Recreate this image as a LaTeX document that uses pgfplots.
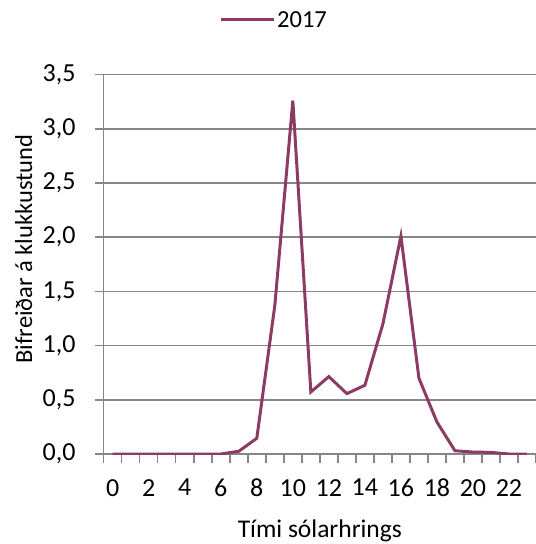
\documentclass[border=0pt]{standalone}
\usepackage{fontspec}
\setmainfont{Carlito}
\usepackage{pgfplots}
\pgfplotsset{compat=1.18}
\definecolor{lineC}{RGB}{140,60,100}
\definecolor{gridC}{RGB}{134,134,134}
\newcommand{\chartfont}{\fontsize{24.5bp}{29bp}\selectfont}
\newcommand{\tickfont}{\fontsize{26bp}{31bp}\selectfont}
\begin{document}
\begin{tikzpicture}
\useasboundingbox (-103.7bp,-90bp) rectangle (432.3bp,454bp);
\begin{axis}[
  scale only axis,
  width=432.3bp, height=379.4bp,
  xmin=-0.5, xmax=23.5, ymin=0, ymax=3.5,
  axis lines=left,
  axis line style={-, draw=gridC, line width=1.5bp},
  /pgf/number format/assume math mode=true,
  tick label style={font=\tickfont},
  label style={font=\chartfont},
  ytick={0,0.5,...,3.5},
  yticklabel style={/pgf/number format/use comma, /pgf/number format/fixed, /pgf/number format/fixed zerofill, /pgf/number format/precision=1, xshift=-16bp},
  ymajorgrids,
  grid style={draw=gridC, line width=1.5bp},
  tick align=outside,
  major tick length=8.7bp,
  minor tick length=8.7bp,
  tick style={draw=gridC, line width=1.5bp},
  xtick={0,2,...,22},
  every major x tick/.append style={draw=none},
  minor xtick={-0.5,0.5,...,23.5},
  xticklabel style={yshift=-13bp},
  xlabel={Tími sólarhrings},
  ylabel={Bifreiðar á klukkustund},
  xlabel style={at={(axis description cs:0.5,-0.203)}, anchor=center, font=\fontsize{25.5bp}{30bp}\selectfont},
  ylabel style={at={(axis description cs:-0.185,0.54)}, anchor=center},
  legend style={at={(axis description cs:0.394,1.144)}, anchor=center, draw=none, fill=none, font=\chartfont},
  legend image code/.code={\draw[#1] (0bp,0bp) -- (53bp,0bp);},
]
\addplot[color=lineC, line width=3bp, mark=none] coordinates {
(0,0) (1,0) (2,0) (3,0) (4,0) (5,0) (6,0) (7,0.025) (8,0.145) (9,1.37)
(10,3.26) (11,0.572) (12,0.714) (13,0.557) (14,0.634) (15,1.2) (16,2.01)
(17,0.70) (18,0.295) (19,0.03) (20,0.018) (21,0.015) (22,0) (23,0)
};
\addlegendentry{2017}
\end{axis}
\end{tikzpicture}
\end{document}
